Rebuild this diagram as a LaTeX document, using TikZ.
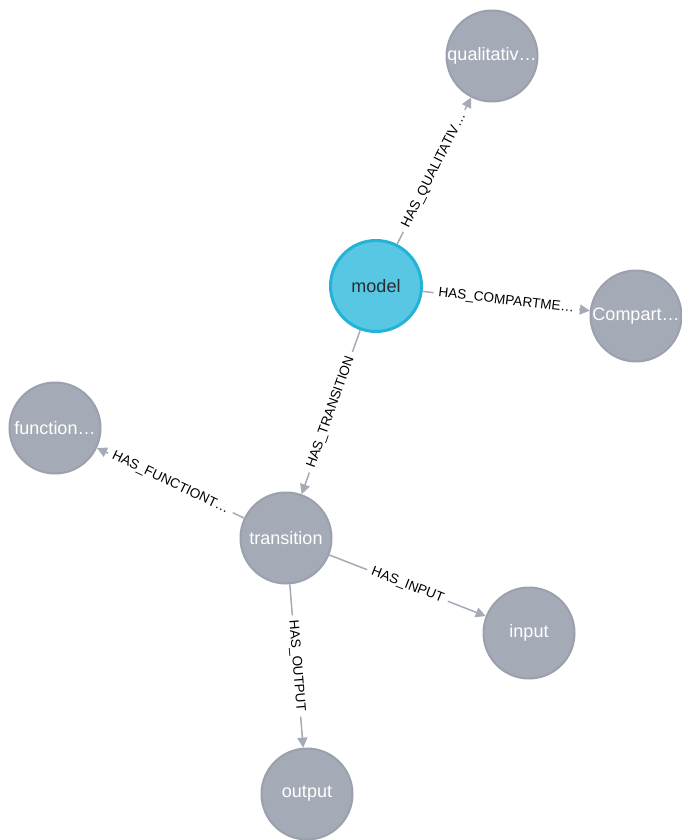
\documentclass[tikz,border=0pt]{standalone}
\usepackage{fontspec}
\setmainfont{Liberation Sans}
\usetikzlibrary{arrows.meta}
\definecolor{ngray}{HTML}{A5ABB6}
\definecolor{nborder}{HTML}{9AA1AC}
\definecolor{mfill}{HTML}{57C7E3}
\definecolor{mborder}{HTML}{23B3D7}
\definecolor{mtext}{HTML}{2A2C34}
\begin{document}
\begin{tikzpicture}[x=1pt,y=-1pt,
 gnode/.style={circle, fill=ngray, draw=nborder, line width=2pt, minimum size=91pt, inner sep=0pt, text=white, font=\fontsize{18}{20}\selectfont},
 mnode/.style={gnode, fill=mfill, draw=mborder, line width=3pt, text=mtext},
 rel/.style={draw=ngray, line width=1.5pt, -{Triangle[length=10pt,width=10pt]}},
 rlab/.style={sloped, fill=white, inner xsep=5pt, inner ysep=1pt, text=black, font=\fontsize{13.6}{15}\selectfont}]
\useasboundingbox[fill=white] (0,0) rectangle (681,840);
\node[gnode] (qual) at (492,56) {qualitativ…};
\node[mnode] (model) at (376,286) {model};
\node[gnode] (comp) at (636,316) {Compart…};
\node[gnode] (func) at (55,428) {function…};
\node[gnode] (trans) at (286,538) {transition};
\node[gnode] (input) at (529,633) {input};
\node[gnode] (output) at (307,794) {output};
\draw[rel] (model) -- node[rlab] {HAS\_QUALITATIV…} (qual);
\draw[rel] (model) -- node[rlab] {HAS\_COMPARTME…} (comp);
\draw[rel] (model) -- node[rlab] {HAS\_TRANSITION} (trans);
\draw[rel] (trans) -- node[rlab] {HAS\_FUNCTIONT…} (func);
\draw[rel] (trans) -- node[rlab] {HAS\_INPUT} (input);
\draw[rel] (trans) -- node[rlab] {HAS\_OUTPUT} (output);
\end{tikzpicture}
\end{document}
